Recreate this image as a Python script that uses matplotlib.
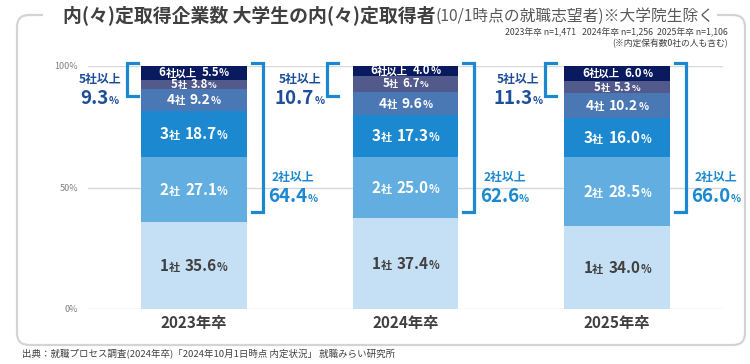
import matplotlib
matplotlib.use("Agg")
import matplotlib.pyplot as plt
from matplotlib.offsetbox import TextArea, HPacker, AnnotationBbox
from matplotlib.path import Path
from matplotlib.patches import PathPatch

plt.rcParams['font.family'] = ['Noto Sans CJK JP', 'DejaVu Sans']

# ---------------- data ----------------
years = ["2023年卒", "2024年卒", "2025年卒"]
categories = ["1社", "2社", "3社", "4社", "5社", "6社以上"]
cat_num = ["1", "2", "3", "4", "5", "6"]
cat_suffix = ["社", "社", "社", "社", "社", "社以上"]
share_2023 = [35.6, 27.1, 18.7, 9.2, 3.8, 5.5]
share_2024 = [37.4, 25.0, 17.3, 9.6, 6.7, 4.0]
share_2025 = [34.0, 28.5, 16.0, 10.2, 5.3, 6.0]
five_plus = [9.3, 10.7, 11.3]
two_plus = [64.4, 62.6, 66.0]
yticks = [0, 50, 100]
ytick_labels = ["0%", "50%", "100%"]
title_bold = "内(々)定取得企業数 大学生の内(々)定取得者"
title_rest = "(10/1時点の就職志望者)※大学院生除く"
header1 = "2023年卒 n=1,471   2024年卒 n=1,256  2025年卒 n=1,106"
header2 = "(※内定保有数0社の人も含む)"
footer = "出典：就職プロセス調査(2024年卒)「2024年10月1日時点 内定状況」 就職みらい研究所"

series = [share_2023, share_2024, share_2025]

# ---------------- style ----------------
seg_colors = ["#C5E0F4", "#63AEE0", "#1C88D0", "#4A78B5", "#525A8C", "#0A1A5E"]
seg_text_colors = ["#404040", "white", "white", "white", "white", "white"]
seg_big = [11, 11, 11, 10, 8.3, 8.3]
seg_small = [8, 8, 8, 7.5, 6.5, 7.5]
bracket_color = "#1C88D0"
five_label_color = "#1F4E9A"
two_label_color = "#1C88D0"

W, H = 750, 364
fig = plt.figure(figsize=(W / 100, H / 100), dpi=100)
fig.patch.set_facecolor("white")

bg = fig.add_axes([0, 0, 1, 1], zorder=0)
bg.set_xlim(0, W)
bg.set_ylim(H, 0)
bg.axis("off")

AX_L, AX_R, AX_T, AX_B = 88, 723, 66, 309
ax = fig.add_axes([AX_L / W, 1 - AX_B / H, (AX_R - AX_L) / W, (AX_B - AX_T) / H], zorder=1)
ax.set_facecolor("none")
ax.set_xlim(-0.5, 2.5)
ax.set_ylim(0, 100)
PXX = (AX_R - AX_L) / 3.0   # px per x unit
PXY = (AX_B - AX_T) / 100.0  # px per y unit

# frame with gap for title
x0, x1, y0, y1, r = 17, 745, 15, 345, 12
verts = [(43, y0), (x0 + r, y0), (x0, y0), (x0, y0 + r),
         (x0, y1 - r), (x0, y1), (x0 + r, y1),
         (x1 - r, y1), (x1, y1), (x1, y1 - r),
         (x1, y0 + r), (x1, y0), (x1 - r, y0), (717, y0)]
codes = [Path.MOVETO, Path.LINETO, Path.CURVE3, Path.CURVE3,
         Path.LINETO, Path.CURVE3, Path.CURVE3,
         Path.LINETO, Path.CURVE3, Path.CURVE3,
         Path.LINETO, Path.CURVE3, Path.CURVE3, Path.LINETO]
bg.add_patch(PathPatch(Path(verts, codes), facecolor="none", edgecolor="#D4D4D4", lw=1.6))

# grid
for yt in yticks:
    ax.axhline(yt, color="#D9D9D9", lw=1, zorder=0)
ax.set_yticks(yticks)
ax.set_yticklabels(ytick_labels, fontsize=6.5, color="#7F7F7F")
ax.tick_params(axis="y", length=0, pad=7)
ax.set_xticks(range(len(years)))
ax.set_xticklabels(years, fontsize=11, fontweight="bold", color="#404040")
ax.tick_params(axis="x", length=0, pad=4)
for s in ax.spines.values():
    s.set_visible(False)

bar_w = 0.5
xs = list(range(len(years)))


def rich(parts, xy, color, align=(0.5, 0.5), axes=ax, coords="data", zorder=5):
    kids = []
    for txt, size in parts:
        kids.append(TextArea(txt, textprops=dict(color=color, fontsize=size,
                                                 fontweight="bold")))
    box = HPacker(children=kids, align="baseline", pad=0, sep=0)
    ab = AnnotationBbox(box, xy, xycoords=coords, frameon=False, pad=0,
                        box_alignment=align, annotation_clip=False, zorder=zorder)
    axes.add_artist(ab)
    return ab


for i, vals in enumerate(series):
    bottom = 0.0
    for k, v in enumerate(vals):
        ax.bar(xs[i], v, bottom=bottom, width=bar_w, color=seg_colors[k],
               edgecolor="none", zorder=2)
        cy = bottom + v / 2
        big, small = seg_big[k], seg_small[k]
        rich([(cat_num[k], big), (cat_suffix[k], small), ("  ", small),
              (f"{v:.1f}", big), ("%", small)],
             (xs[i], cy), seg_text_colors[k])
        bottom += v

# brackets
left_offsets_px = [-14, -26, -19]   # bracket vertical relative to bar left edge
right_offset_px = 16
br_top = 101.2
left_bot = 87.5
right_bot = 40.0
arm_px = 11
for i in range(len(years)):
    bl = xs[i] - bar_w / 2
    brr = xs[i] + bar_w / 2
    vx = bl + left_offsets_px[i] / PXX
    ax.plot([vx + arm_px / PXX, vx, vx, vx + arm_px / PXX],
            [br_top, br_top, left_bot, left_bot], color=bracket_color, lw=2.3,
            clip_on=False, solid_joinstyle="miter", zorder=3)
    lx = vx - 27 / PXX
    rich([("5社以上", 8.6)], (lx, (AX_B - 79) / PXY), five_label_color)
    rich([(f"{five_plus[i]:.1f}", 13.5), ("%", 7.5)], (lx, (AX_B - 98) / PXY), five_label_color)

    rx = brr + right_offset_px / PXX
    ax.plot([rx - arm_px / PXX, rx, rx, rx - arm_px / PXX],
            [br_top, br_top, right_bot, right_bot], color=bracket_color, lw=2.3,
            clip_on=False, solid_joinstyle="miter", zorder=3)
    lx2 = rx + 30 / PXX
    rich([("2社以上", 8.6)], (lx2, (AX_B - 177) / PXY), two_label_color)
    rich([(f"{two_plus[i]:.1f}", 13.5), ("%", 7.5)], (lx2, (AX_B - 196) / PXY), two_label_color)

# title
kids = [TextArea(title_bold, textprops=dict(color="#404040", fontsize=13.6, fontweight="bold")),
        TextArea(title_rest, textprops=dict(color="#595959", fontsize=11.3))]
tb = HPacker(children=kids, align="baseline", pad=0, sep=0)
bg.add_artist(AnnotationBbox(tb, (63, 15), xycoords="data", frameon=False, pad=0,
                             box_alignment=(0, 0.5), annotation_clip=False))

bg.text(728, 33, header1, ha="right", va="center", fontsize=6.3, color="#404040")
bg.text(728, 44, header2, ha="right", va="center", fontsize=6.3, color="#404040")
bg.text(22, 354, footer, ha="left", va="center", fontsize=6.8, color="#404040")

fig.savefig("out.png", dpi=100, facecolor="white")
